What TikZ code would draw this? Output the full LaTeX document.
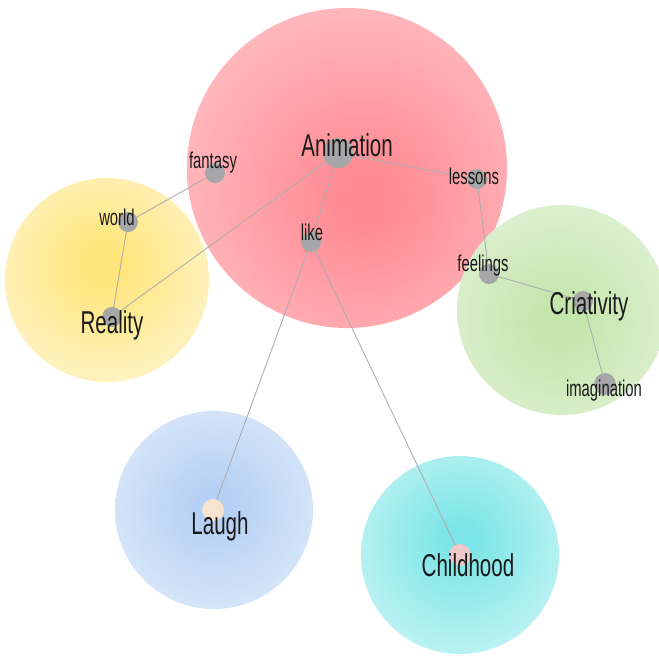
\documentclass[tikz,border=0pt]{standalone}
\usepackage{fontspec}
\setmainfont{Liberation Sans}[FakeStretch=0.65]
\usepackage{tikz}
\usetikzlibrary{calc,backgrounds,shapes}
\definecolor{BlobRedIn}{HTML}{FF8A93}
\definecolor{BlobRedOut}{HTML}{FFBDC1}
\definecolor{BlobYelIn}{HTML}{FFE57A}
\definecolor{BlobYelOut}{HTML}{FFF4CC}
\definecolor{BlobGrnIn}{HTML}{C4E5AB}
\definecolor{BlobGrnOut}{HTML}{E0F2D5}
\definecolor{BlobBluIn}{HTML}{B4D0F4}
\definecolor{BlobBluOut}{HTML}{DEEAFA}
\definecolor{BlobCyaIn}{HTML}{7CE5E7}
\definecolor{BlobCyaOut}{HTML}{C6F4F4}
\definecolor{DotGray}{HTML}{A7A7A9}
\definecolor{LinkGray}{HTML}{ADADAD}
\definecolor{InkBlack}{HTML}{1A1A1A}
\pgfdeclarelayer{blobs}
\pgfdeclarelayer{links}
\pgfsetlayers{blobs,links,main}
% soft edged blobs (the circle edge sits at about 35bp)
\pgfdeclareradialshading{redblob}{\pgfpoint{3bp}{-5bp}}{color(0bp)=(BlobRedIn); color(4bp)=(BlobRedIn);
  color(32bp)=(BlobRedOut); color(35.5bp)=(BlobRedOut!50!white); color(100bp)=(white)}
\pgfdeclareradialshading{yelblob}{\pgfpoint{-1bp}{4bp}}{color(0bp)=(BlobYelIn); color(4bp)=(BlobYelIn);
  color(32bp)=(BlobYelOut); color(35.5bp)=(BlobYelOut!50!white); color(100bp)=(white)}
\pgfdeclareradialshading{grnblob}{\pgfpoint{-1bp}{-3bp}}{color(0bp)=(BlobGrnIn); color(4bp)=(BlobGrnIn);
  color(32bp)=(BlobGrnOut); color(35.5bp)=(BlobGrnOut!50!white); color(100bp)=(white)}
\pgfdeclareradialshading{blublob}{\pgfpoint{0bp}{1bp}}{color(0bp)=(BlobBluIn); color(4bp)=(BlobBluIn);
  color(32bp)=(BlobBluOut); color(35.5bp)=(BlobBluOut!50!white); color(100bp)=(white)}
\pgfdeclareradialshading{cyablob}{\pgfpoint{0bp}{4bp}}{color(0bp)=(BlobCyaIn); color(4bp)=(BlobCyaIn);
  color(32bp)=(BlobCyaOut); color(35.5bp)=(BlobCyaOut!50!white); color(100bp)=(white)}
\tikzset{
    dot/.style = {circle, fill=DotGray, inner sep=0pt, minimum size=20*0.02cm},
    bigdot/.style = {dot, minimum size=30*0.02cm},
    word/.style = {text=InkBlack, inner sep=0pt, font=\fontsize{13}{13}\selectfont},
    bigword/.style = {word, font=\fontsize{18}{18}\selectfont},
    link/.style = {draw=LinkGray, line width=0.5pt}
}

\begin{document}
\begin{tikzpicture}[x=0.02cm, y=-0.02cm]
  \clip (0,0) rectangle (659,657);
  % blobs
  \begin{pgfonlayer}{blobs}
    \shade[shading=redblob] (347,168) circle (160);
    \shade[shading=yelblob] (107,280) circle (102);
    \shade[shading=grnblob] (562,310) circle (105);
    \shade[shading=blublob] (214,510) circle (99);
    \shade[shading=cyablob] (460,555) circle (99);
  \end{pgfonlayer}
  % dots
  \node[bigdot] (anim) at (338,153) {};
  \node[dot] (fantasy) at (215,173) {};
  \node[dot] (lessons) at (477,179) {};
  \node[dot] (like) at (311,242) {};
  \node[dot] (world) at (128,222) {};
  \node[dot] (reality) at (112,317) {};
  \node[dot] (feelings) at (489,274) {};
  \node[dot] (criat) at (583,301) {};
  \node[dot, minimum size=22*0.02cm] (imag) at (605,384) {};
  \node[dot, minimum size=22*0.02cm, fill=DotGray!35!orange!25] (laugh) at (213,510) {};
  \node[dot, minimum size=22*0.02cm, fill=DotGray!60!red!35] (child) at (460,555) {};
  % words
  \node[bigword] at (347,145) {Animation};
  \node[word] at (213,163) {fantasy};
  \node[word] at (474,176) {lessons};
  \node[word] at (312,232) {like};
  \node[word] at (117,217) {world};
  \node[bigword] at (112,325) {Reality};
  \node[word] at (483,266) {feelings};
  \node[bigword] at (589,306) {Criativity};
  \node[word] at (604,391) {imagination};
  \node[bigword] at (220,526) {Laugh};
  \node[bigword] at (468,565) {Childhood};
  % links
  \begin{pgfonlayer}{links}
    \foreach \a/\b in {anim/lessons, anim/like, anim/reality, fantasy/world,
                       world/reality, lessons/feelings, feelings/criat,
                       criat/imag, like/laugh, like/child}
      \draw[link] (\a.center) -- (\b.center);
  \end{pgfonlayer}
\end{tikzpicture}
\end{document}
